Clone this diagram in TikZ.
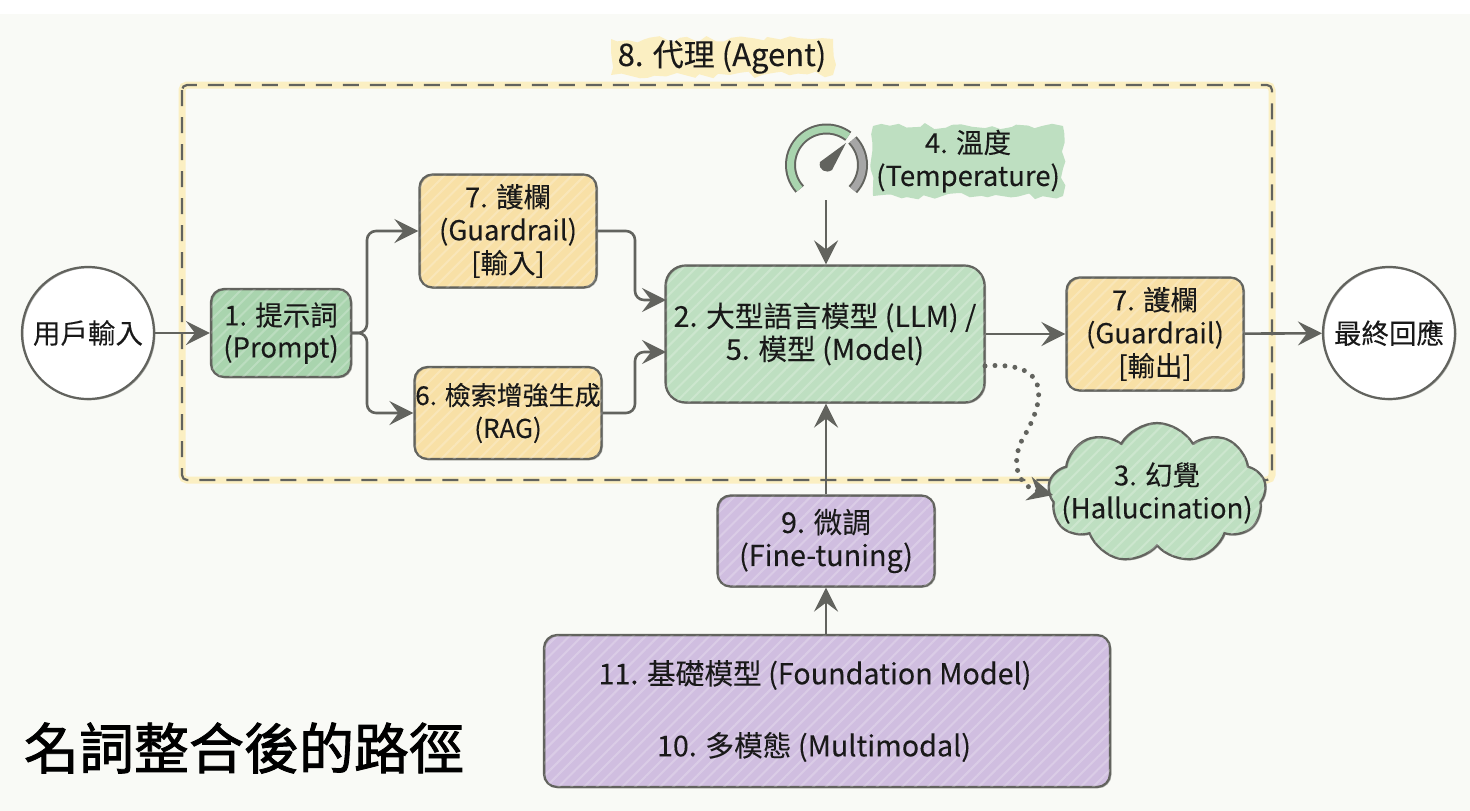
\documentclass[tikz,border=0pt]{standalone}
\usepackage{fontspec}
\setmainfont{Noto Sans CJK TC}[FakeBold=0.12]
\newfontfamily\titlefont{Noto Sans CJK TC}[FakeBold=1.6]
\usetikzlibrary{arrows.meta,patterns.meta,shapes.symbols,decorations.pathmorphing,calc}
\definecolor{paper}{HTML}{F9FAF6}
\definecolor{pencil}{HTML}{62635E}
\definecolor{leaf}{HTML}{BEDFC1}
\definecolor{leafdark}{HTML}{A9D4AE}
\definecolor{straw}{HTML}{F8E0A6}
\definecolor{lilac}{HTML}{D0BEE0}
\definecolor{butter}{HTML}{FBEFC2}
\tikzset{
	hatch/.style={postaction={pattern={Lines[angle=45,distance=9pt,line width=2pt]},pattern color=white,opacity=0.22}},
	sketch/.style={postaction={draw=pencil,line width=1pt,opacity=0.5,transform canvas={shift={(1pt,-0.8pt)}}}},
	brush/.style={decorate,decoration={random steps,segment length=9pt,amplitude=3.5pt}},
	lbl/.style={font=\fontsize{27.5}{33}\selectfont,align=center,text=black!90},
	bigger/.style={font=\fontsize{28.7}{33}\selectfont},
	box/.style={lbl,draw=pencil,line width=2.2pt,rounded corners=13pt,inner sep=0pt,hatch,sketch},
	endpoint/.style={lbl,circle,draw=pencil,line width=2.2pt,fill=white,minimum size=132pt,inner sep=0pt,sketch},
	flow/.style={draw=pencil,line width=2.6pt,-{Stealth[length=24pt,width=24pt,inset=9pt]}},
}
\begin{document}
\begin{tikzpicture}[x=1pt,y=-1pt]
	\useasboundingbox(0,0) rectangle (1470,811);
	\fill[white](0,0) rectangle (1470,811);
	\fill[paper](0,14) rectangle (1470,811);
	\draw[butter,line width=7pt,rounded corners=5pt](182,85) rectangle (1272,480);
	\draw[pencil,line width=2.2pt,rounded corners=5pt,dash pattern=on 16pt off 11pt](182,85) rectangle (1272,480);
	\node[lbl,font=\fontsize{31}{36}\selectfont,fill=butter,brush,minimum width=222pt,minimum height=36pt,inner sep=0pt](agent) at (722,57){8. 代理 (Agent)};
	\node[endpoint](userin) at (88,333){用戶輸入};
	\node[endpoint](final) at (1389,333){最終回應};
	\node[box,font=\fontsize{27.5}{32}\selectfont,fill=leafdark,minimum width=140pt,minimum height=88pt](prompt) at (281,333){1. 提示詞\\(Prompt)};
	\node[box,fill=straw,minimum width=177pt,minimum height=113pt](guardin) at (508,231){7. 護欄\\(Guardrail)\\{[}輸入{]}};
	\node[box,font=\fontsize{26}{33}\selectfont,fill=straw,minimum width=187pt,minimum height=92pt](rag) at (508,413){6. 檢索增強生成\\(RAG)};
	\node[box,bigger,fill=leaf,minimum width=319pt,minimum height=137pt,rounded corners=20pt](llm) at (825,334){2. 大型語言模型 (LLM) /\\5. 模型 (Model)};
	\node[box,fill=straw,minimum width=177pt,minimum height=113pt](guardout) at (1155,334){7. 護欄\\(Guardrail)\\{[}輸出{]}};
	\node[lbl,fill=leaf,brush,minimum width=190pt,minimum height=70pt,inner sep=0pt](temp) at (968,161){4. 溫度\\(Temperature)};
	\node[cloud,cloud puffs=9,cloud puff arc=120,aspect=1.56,draw=pencil,line width=2.2pt,fill=leaf,hatch,sketch,minimum width=218pt,minimum height=140pt,inner sep=0pt](cloudy) at (1157,493){};
	\node[lbl](cloudtext) at (cloudy){3. 幻覺\\(Hallucination)};
	\node[box,bigger,fill=lilac,minimum width=217pt,minimum height=91pt](tuning) at (826,541){9. 微調\\(Fine-tuning)};
	\node[box,fill=lilac,minimum width=566pt,minimum height=152pt](base) at (827,711){};
	\node[lbl,bigger](found) at (815,675){11. 基礎模型 (Foundation Model)};
	\node[lbl,bigger](multi) at (814,747){10. 多模態 (Multimodal)};
	\node[font=\fontsize{55}{60}\titlefont,text=black,inner sep=0pt](title) at (244,748){名詞整合後的路徑};
	\coordinate(gauge) at (826.5,165);
	\draw[pencil,line width=11pt](gauge) ++(138:36) arc[start angle=138,end angle=307,radius=36];
	\draw[leafdark,line width=7pt](gauge) ++(138:36) arc[start angle=138,end angle=307,radius=36];
	\draw[pencil,line width=11pt](gauge) ++(316:36) arc[start angle=316,end angle=403,radius=36];
	\draw[black!35,line width=7pt](gauge) ++(316:36) arc[start angle=316,end angle=403,radius=36];
	\fill[pencil](846,143) -- (832,170) .. controls (826,174) and (818,170) .. (820,162) -- cycle;
	\coordinate(split) at (367,333);
	\coordinate(gaugeout) at (826,200);
	\coordinate(llmup) at (666,300);
	\coordinate(llmdown) at (666,352);
	\coordinate(guardelbow) at (635,260);
	\coordinate(ragelbow) at (635,380);
	\coordinate(halluout) at (985,366);
	\coordinate(halluin) at (1053,495);
	\draw[flow](userin) -- (prompt);
	\draw[flow,rounded corners=9pt](prompt) -- (split) |- (guardin.west);
	\draw[flow,rounded corners=9pt](prompt) -- (split) |- (rag.west);
	\draw[flow,rounded corners=9pt](guardin.east) -| (guardelbow) |- (llmup);
	\draw[flow,rounded corners=9pt](rag.east) -| (ragelbow) |- (llmdown);
	\draw[flow](gaugeout) -- (llm.north-|gaugeout);
	\draw[flow](llm.east) -- (guardout);
	\draw[flow](guardout) -- (final);
	\draw[flow](tuning.north) -- (llm.south-|tuning.north);
	\draw[flow](base.north-|tuning.south) -- (tuning.south);
	\draw[pencil,line width=5pt,line cap=round,dash pattern=on 0pt off 10pt,-{Stealth[length=25pt,width=24pt]}](halluout) .. controls (1060,360) and (1040,410) .. (1022,440) .. controls (1012,460) and (1015,485) .. (halluin);
\end{tikzpicture}
\end{document}
